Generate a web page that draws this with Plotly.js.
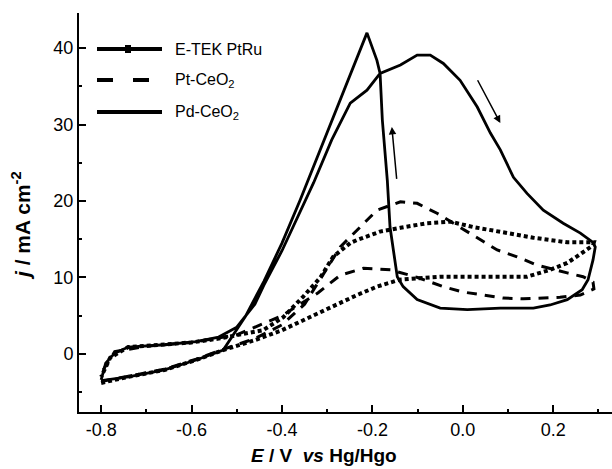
<!DOCTYPE html>
<html>
<head>
<meta charset="utf-8">
<script src="https://cdn.plot.ly/plotly-3.0.1.min.js"></script>
<style>html,body{margin:0;padding:0;background:#fff;}#chart{width:612px;height:469px;}</style>
</head>
<body>
<div id="chart"></div>
<script>
// ---- data (E / V vs Hg/HgO, j / mA cm^-2) ----
var seriesNames = ["E-TEK PtRu", "Pt-CeO<sub>2</sub>", "Pd-CeO<sub>2</sub>"];

var ptruX = [-0.80, -0.74, -0.66, -0.59, -0.53, -0.46, -0.40, -0.34, -0.29, -0.234, -0.19, -0.14, -0.10, -0.05, 0.01, 0.083, 0.142, 0.193, 0.231, 0.266, 0.288, 0.29, 0.231, 0.156, 0.083, 0.023, -0.028, -0.079, -0.138, -0.183, -0.234, -0.249, -0.287, -0.315, -0.353, -0.397, -0.442, -0.49, -0.54, -0.60, -0.66, -0.74, -0.78, -0.80];
var ptruY = [-3.8, -3.0, -2.1, -0.8, 0.5, 1.8, 3.1, 4.8, 6.1, 7.7, 8.8, 9.7, 9.9, 10.1, 10.1, 10.1, 10.1, 11.0, 11.9, 13.3, 14.2, 14.6, 14.6, 15.2, 16.0, 16.6, 17.3, 17.1, 16.5, 16.0, 14.9, 14.5, 12.7, 10.0, 7.5, 4.8, 3.1, 2.5, 2.0, 1.5, 1.2, 0.9, -0.5, -3.0];

var ptX = [-0.80, -0.74, -0.66, -0.59, -0.53, -0.46, -0.40, -0.35, -0.316, -0.271, -0.227, -0.19, -0.138, -0.101, -0.057, 0.032, 0.076, 0.12, 0.165, 0.231, 0.266, 0.288, 0.29, 0.26, 0.215, 0.134, 0.089, 0.045, 0.0, -0.043, -0.10, -0.16, -0.22, -0.271, -0.32, -0.40, -0.50, -0.60, -0.70, -0.77, -0.80];
var ptY = [-3.6, -2.9, -2.0, -0.7, 0.6, 2.0, 3.8, 6.5, 9.7, 14.0, 16.6, 18.8, 19.9, 19.7, 18.4, 15.2, 13.6, 12.7, 11.6, 10.6, 10.1, 9.4, 8.5, 7.7, 7.4, 7.2, 7.3, 7.7, 8.1, 8.8, 10.0, 11.0, 11.2, 10.3, 8.0, 5.0, 2.5, 1.5, 1.0, 0.3, -2.5];

var pdX = [-0.80, -0.79, -0.77, -0.74, -0.66, -0.59, -0.54, -0.50, -0.46, -0.44, -0.40, -0.366, -0.33, -0.29, -0.249, -0.212, -0.183, -0.138, -0.101, -0.072, -0.043, -0.006, 0.032, 0.061, 0.083, 0.112, 0.142, 0.178, 0.222, 0.26, 0.288, 0.293, 0.288, 0.277, 0.264, 0.231, 0.193, 0.156, 0.083, 0.01, -0.05, -0.101, -0.132, -0.145, -0.161, -0.167, -0.178, -0.183, -0.19, -0.212, -0.254, -0.30, -0.36, -0.40, -0.44, -0.48, -0.53, -0.59, -0.66, -0.74, -0.80];
var pdY = [-3.4, -1.2, 0.1, 0.9, 1.2, 1.6, 2.2, 3.5, 6.5, 9.0, 13.5, 17.9, 22.4, 28.0, 32.8, 34.5, 36.7, 37.8, 39.1, 39.1, 38.0, 35.8, 32.3, 28.9, 26.7, 23.1, 21.0, 18.8, 17.1, 15.8, 14.6, 14.0, 12.3, 9.7, 8.4, 7.1, 6.4, 6.0, 6.0, 5.8, 6.0, 7.1, 8.8, 10.1, 16.6, 22.7, 30.6, 36.7, 38.4, 42.0, 35.8, 28.9, 20.1, 14.5, 9.5, 5.0, 0.5, -0.8, -2.1, -3.0, -3.5];

// scan-direction arrows (head / tail in data units)
var arrowHeadX = [-0.157, 0.083];
var arrowHeadY = [29.7, 30.2];
var arrowTailX = [-0.146, 0.031];
var arrowTailY = [22.7, 36.0];

var xTickVals = [-0.8, -0.6, -0.4, -0.2, 0.0, 0.2];
var xTickText = ["-0.8", "-0.6", "-0.4", "-0.2", "0.0", "0.2"];
var yTickVals = [0, 10, 20, 30, 40];
var yTickText = ["0", "10", "20", "30", "40"];

// ---- traces ----
var traces = [
  {x: ptruX, y: ptruY, mode: 'lines', name: seriesNames[0], showlegend: false,
   line: {color: '#000', width: 4, dash: '4px,3px'}},
  {x: ptX, y: ptY, mode: 'lines', name: seriesNames[1], showlegend: false,
   line: {color: '#000', width: 3, dash: '10px,8px'}},
  {x: pdX, y: pdY, mode: 'lines', name: seriesNames[2], showlegend: false,
   line: {color: '#000', width: 2.8}}
];

var FONT = 'Liberation Sans, Arial, Helvetica, sans-serif';

// manual legend and titles (paper coords)
function px2x(p){ return (p - 79) / 533; }
function py2y(p){ return (412 - p) / 399; }
var legY = [49, 80, 112];
var shapes = [
  {type:'line', xref:'paper', yref:'paper', x0:px2x(97), x1:px2x(162), y0:py2y(legY[0]), y1:py2y(legY[0]), line:{color:'#000', width:4}},
  {type:'line', xref:'paper', yref:'paper', x0:px2x(128), x1:px2x(128), y0:py2y(legY[0]-4), y1:py2y(legY[0]+4), line:{color:'#000', width:6}},
  {type:'line', xref:'paper', yref:'paper', x0:px2x(97), x1:px2x(150), y0:py2y(legY[1]), y1:py2y(legY[1]), line:{color:'#000', width:4, dash:'16px,20px'}},
  {type:'line', xref:'paper', yref:'paper', x0:px2x(97), x1:px2x(162), y0:py2y(legY[2]), y1:py2y(legY[2]), line:{color:'#000', width:4}}
];
var annotations = [];
for (var i = 0; i < 3; i++) {
  annotations.push({xref:'paper', yref:'paper', x:px2x(173), y:py2y(legY[i]), xanchor:'left', yanchor:'middle',
    text: seriesNames[i], showarrow:false, font:{family:FONT, size:16, color:'#000'}});
}
annotations.push({xref:'paper', yref:'paper', x:px2x(324), y:py2y(455), xanchor:'center', yanchor:'middle',
  text:'<b><i>E</i> / V  <i>vs</i> Hg/Hgo</b>', showarrow:false, font:{family:FONT, size:19, color:'#000'}});
annotations.push({xref:'paper', yref:'paper', x:px2x(21), y:py2y(226), xanchor:'center', yanchor:'middle', textangle:-90,
  text:'<b><i>j</i> / mA cm<sup>-2</sup></b>', showarrow:false, font:{family:FONT, size:21, color:'#000'}});
for (var k = 0; k < arrowHeadX.length; k++) {
  annotations.push({xref:'x', yref:'y', axref:'x', ayref:'y', x:arrowHeadX[k], y:arrowHeadY[k],
    ax:arrowTailX[k], ay:arrowTailY[k], text:'', showarrow:true, arrowhead:2, arrowsize:1, arrowwidth:1.5, arrowcolor:'#000'});
}

var layout = {
  width: 612, height: 469,
  margin: {l: 79, r: 0, t: 13, b: 57, pad: 0},
  paper_bgcolor: '#fff', plot_bgcolor: '#fff',
  font: {family: FONT, size: 18, color: '#000'},
  showlegend: false,
  xaxis: {
    range: [-0.849, 0.33], showgrid: false, zeroline: false,
    showline: true, linecolor: '#000', linewidth: 2,
    ticks: 'inside', ticklen: 7, tickwidth: 2, tickcolor: '#000',
    tickvals: xTickVals, ticktext: xTickText,
    tickfont: {family: FONT, size: 18},
    minor: {dtick: 0.1, tick0: 0, ticks: 'inside', ticklen: 3, tickwidth: 2, tickcolor: '#000'}
  },
  yaxis: {
    range: [-7.6, 44.6], showgrid: false, zeroline: false,
    showline: true, linecolor: '#000', linewidth: 2,
    ticks: 'inside', ticklen: 7, tickwidth: 2, tickcolor: '#000',
    tickvals: yTickVals, ticktext: yTickText,
    tickfont: {family: FONT, size: 18},
    minor: {dtick: 5, tick0: 0, ticks: 'inside', ticklen: 3, tickwidth: 2, tickcolor: '#000'}
  },
  shapes: shapes,
  annotations: annotations
};

Plotly.newPlot('chart', traces, layout, {displayModeBar: false, staticPlot: true});
</script>
</body>
</html>
